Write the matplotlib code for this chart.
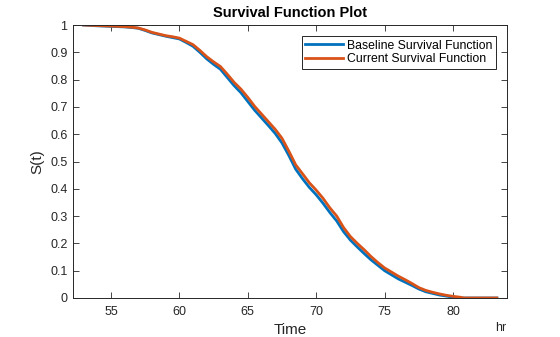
import matplotlib
matplotlib.use("Agg")
import matplotlib.pyplot as plt

plt.rcParams['font.family'] = ['Liberation Sans', 'DejaVu Sans']

base_t = [53, 54, 55, 56, 56.5, 57, 57.5, 58, 58.5, 59, 59.5, 60, 60.5, 61, 61.5, 62, 62.5, 63, 63.5,
          64, 64.5, 65, 65.5, 66, 66.5, 67, 67.5, 68, 68.5, 69, 69.5, 70, 70.5, 71, 71.5, 72,
          72.5, 73, 73.5, 74, 74.5, 75, 75.5, 76, 76.5, 77, 77.5, 78, 78.5, 79, 79.5, 80, 80.3, 83.2]
base_s = [1.0, 0.997, 0.995, 0.993, 0.991, 0.988, 0.98, 0.971, 0.965, 0.959, 0.954, 0.949, 0.936,
          0.922, 0.9, 0.876, 0.856, 0.838, 0.808, 0.778, 0.752, 0.72, 0.688, 0.66, 0.632, 0.603,
          0.568, 0.522, 0.472, 0.437, 0.405, 0.378, 0.347, 0.313, 0.282, 0.243, 0.212, 0.187,
          0.163, 0.14, 0.12, 0.1, 0.085, 0.07, 0.058, 0.046, 0.033, 0.023, 0.017, 0.011, 0.007,
          0.003, 0.0, 0.0]

cur_t = [53, 54, 55, 56, 56.5, 57, 57.5, 58, 58.5, 59, 59.5, 60, 60.5, 61, 61.5, 62, 62.5, 63, 63.5,
         64, 64.5, 65, 65.5, 66, 66.5, 67, 67.5, 68, 68.5, 69, 69.5, 70, 70.5, 71, 71.5, 72,
         72.5, 73, 73.5, 74, 74.5, 75, 75.5, 76, 76.5, 77, 77.5, 78, 78.5, 79, 79.5, 80, 80.5, 80.8, 83.2]
cur_s = [1.0, 0.998, 0.996, 0.994, 0.992, 0.989, 0.982, 0.973, 0.967, 0.961, 0.957, 0.952, 0.94,
         0.928, 0.907, 0.884, 0.865, 0.848, 0.82, 0.79, 0.765, 0.735, 0.702, 0.674, 0.646, 0.618,
         0.585, 0.538, 0.488, 0.455, 0.422, 0.395, 0.365, 0.33, 0.3, 0.258, 0.225, 0.2, 0.177,
         0.152, 0.13, 0.11, 0.095, 0.08, 0.067, 0.053, 0.038, 0.028, 0.021, 0.015, 0.01, 0.006,
         0.003, 0.0, 0.0]

x_ticks = [55, 60, 65, 70, 75, 80]
y_ticks = [0, 0.1, 0.2, 0.3, 0.4, 0.5, 0.6, 0.7, 0.8, 0.9, 1]
y_tick_labels = ["0", "0.1", "0.2", "0.3", "0.4", "0.5", "0.6", "0.7", "0.8", "0.9", "1"]

fig = plt.figure(figsize=(5.6, 3.37), dpi=100)
ax = fig.add_axes([73/560, 39/337, 434/560, 273/337])

ax.plot(base_t, base_s, color='#0072BD', lw=2.0, label='Baseline Survival Function')
ax.plot(cur_t, cur_s, color='#D95319', lw=2.0, label='Current Survival Function')

ax.set_xlim(52.23, 83.94)
ax.set_ylim(0, 1)
ax.set_xticks(x_ticks)
ax.set_xticklabels([str(v) for v in x_ticks])
ax.set_yticks(y_ticks)
ax.set_yticklabels(y_tick_labels)
ax.tick_params(direction='in', top=True, right=True, labelsize=9, length=4, width=0.6,
               colors='#262626')
ax.tick_params(axis='x', pad=6)
ax.tick_params(axis='y', pad=4)
for sp in ax.spines.values():
    sp.set_linewidth(0.7)
    sp.set_color('#262626')

ax.set_title('Survival Function Plot', fontsize=10.5, fontweight='bold', pad=6)
ax.set_xlabel('Time', fontsize=11, color='#262626', labelpad=3)
ax.set_ylabel('S(t)', fontsize=11, color='#262626', labelpad=4)
fig.text(501/560, 1 - 328/337, 'hr', fontsize=9, color='#262626', ha='center', va='center')

leg = ax.legend(loc='upper right', fontsize=8.8, frameon=True, fancybox=False,
                edgecolor='#262626', framealpha=1, borderpad=0.3, labelspacing=0.1,
                handlelength=3.1, handletextpad=0.3, borderaxespad=0.9)
leg.get_frame().set_linewidth(0.7)

fig.savefig('out.png', dpi=100)
